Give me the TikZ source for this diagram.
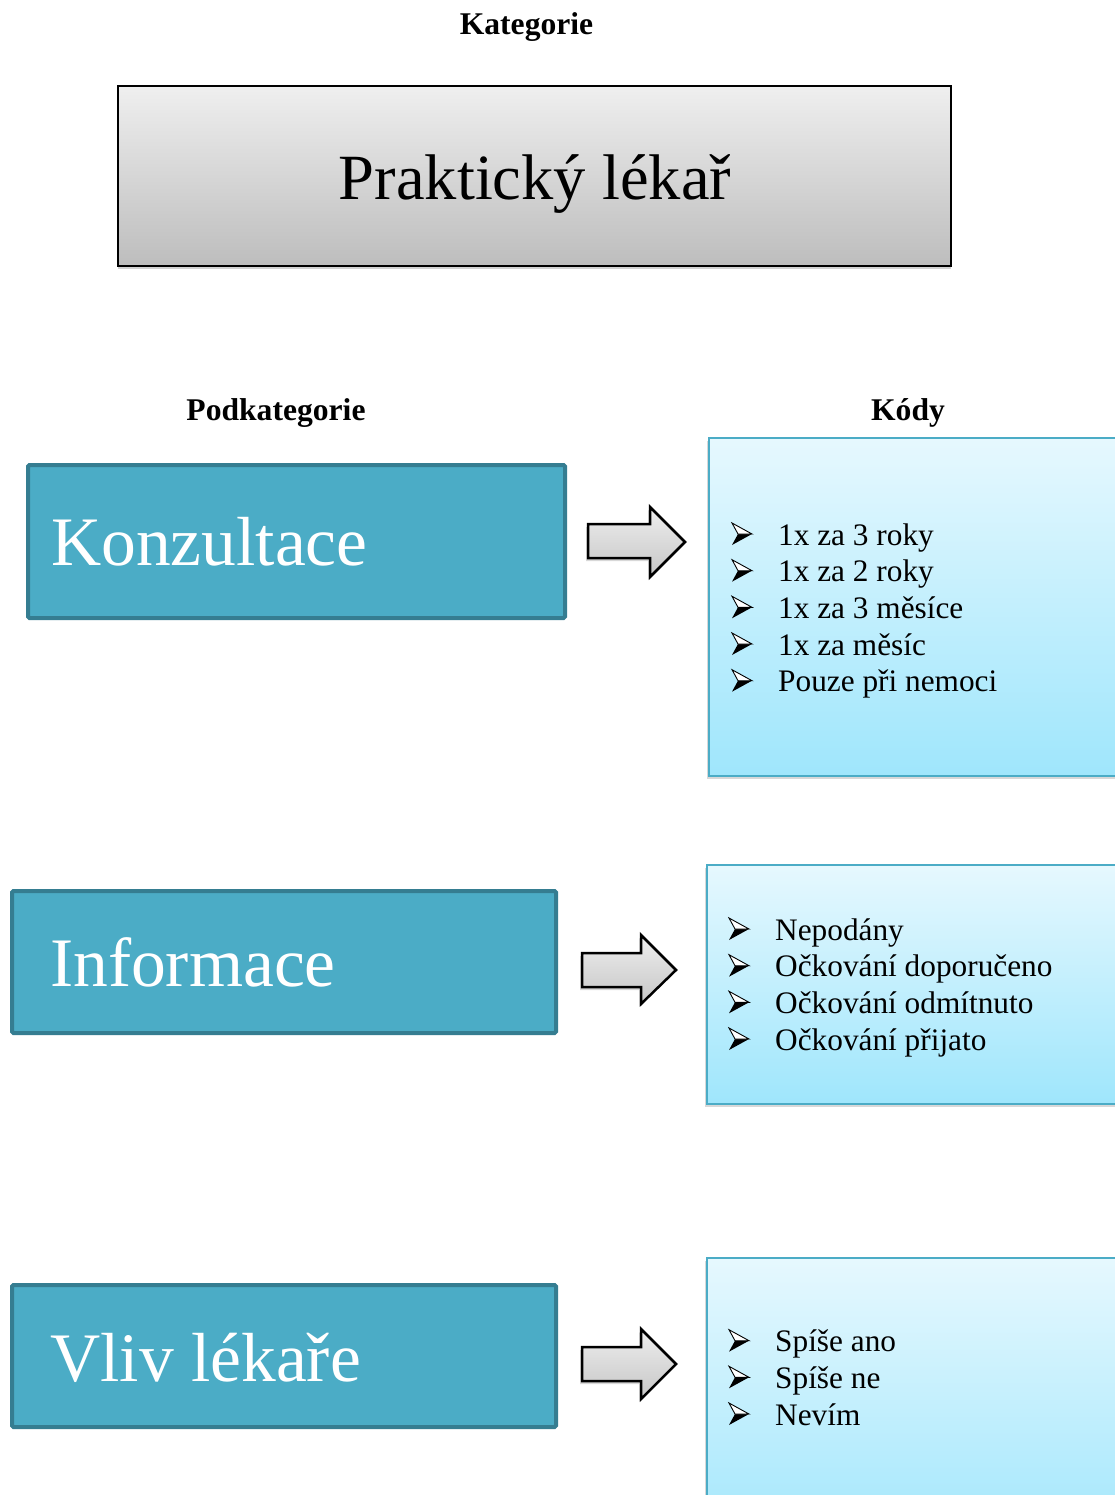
\documentclass[tikz,border=0pt]{standalone}
\usepackage{fontspec}
\setmainfont{Liberation Serif}
\usetikzlibrary{shadows}
\definecolor{tealfill}{HTML}{4BACC6}
\definecolor{tealdark}{HTML}{357D91}
\definecolor{kodtop}{HTML}{E6F8FE}
\definecolor{kodbot}{HTML}{9FE6FC}
\definecolor{greytop}{HTML}{EFEFEF}
\definecolor{greybot}{HTML}{BDBDBD}
\definecolor{arrtop}{HTML}{EEEEEE}
\definecolor{arrbot}{HTML}{C6C6C6}
\begin{document}
\begin{tikzpicture}[x=1pt,y=-1pt,
  heading/.style={font=\fontsize{31.6}{36}\selectfont\bfseries, inner sep=0pt, anchor=base},
  katbox/.style={draw=black, line width=2pt, top color=greytop, bottom color=greybot,
    inner sep=0pt, drop shadow={opacity=0.35, shadow xshift=0pt, shadow yshift=-3pt}},
  kattext/.style={font=\fontsize{64.5}{72}\selectfont, inner sep=0pt, anchor=base},
  subbox/.style={draw=tealdark, line width=4pt, fill=tealfill, rounded corners=1.5pt, inner sep=0pt},
  subtext/.style={font=\fontsize{69.5}{80}\selectfont, text=white, anchor=base west, inner sep=0pt},
  kodbox/.style={draw=tealfill, line width=2pt, top color=kodtop, bottom color=kodbot, inner sep=0pt,
    drop shadow={opacity=0.3, shadow xshift=-2pt, shadow yshift=-3pt}},
  kodtext/.style={font=\fontsize{31.3}{36}\selectfont, anchor=base west, inner sep=0pt},
  blockarrow/.style={draw=black, line width=2.5pt, line join=miter, top color=arrtop, bottom color=arrbot,
    drop shadow={opacity=0.3, shadow xshift=-2pt, shadow yshift=-3pt}},
  bulletarrow/.pic={
    \fill[black] (6,0) -- (20,0) -- (0,11) -- cycle;
    \filldraw[fill=white, draw=black, line width=0.9pt, line join=miter] (0,-11) -- (20,0) -- (6,0) -- cycle;
  }
]
\useasboundingbox (0,0) rectangle (1115,1495);
\clip (0,0) rectangle (1115,1495);
\fill[white] (0,0) rectangle (1115,1495);

% headings
\node[heading] (hkat) at (526.5,35) {Kategorie};
\node[heading] (hpod) at (276,420) {Podkategorie};
\node[heading] (hkod) at (908,420) {Kódy};

% category box
\node[katbox, minimum width=833pt, minimum height=180pt] (pl) at (534.5,176) {};
\node[kattext] (plt) at (535,199.5) {Praktický lékař};

% subcategory boxes
\node[subbox, minimum width=537pt, minimum height=153pt] (s1) at (296.5,541.5) {};
\node[subtext] (s1t) at (51,565) {Konzultace};
\node[subbox, minimum width=544pt, minimum height=142pt] (s2) at (284,962) {};
\node[subtext] (s2t) at (50,986) {Informace};
\node[subbox, minimum width=544pt, minimum height=142pt] (s3) at (284,1356) {};
\node[subtext] (s3t) at (50,1381) {Vliv lékaře};

% arrows
\draw[blockarrow] (588,524) -- (650,524) -- (650,507) -- (685,542) -- (650,577) -- (650,558) -- (588,558) -- cycle;
\draw[blockarrow] (582,953) -- (641,953) -- (641,935) -- (676,970) -- (641,1004) -- (641,987) -- (582,987) -- cycle;
\draw[blockarrow] (582,1347) -- (641,1347) -- (641,1329) -- (676,1364) -- (641,1399) -- (641,1381) -- (582,1381) -- cycle;

% code boxes
\node[kodbox, minimum width=440pt, minimum height=338pt] (k1) at (929,607) {};
\node[kodbox, minimum width=440pt, minimum height=239pt] (k2) at (927,984.5) {};
\node[kodbox, minimum width=440pt, minimum height=300pt] (k3) at (927,1408) {};

% code lists
\foreach \yb/\txt [count=\i] in {545/{1x za 3 roky}, 581.7/{1x za 2 roky}, 618.3/{1x za 3 měsíce}, 655/{1x za měsíc}, 691.7/{Pouze při nemoci}} {
  \pic at (732,\yb-11) {bulletarrow};
  \node[kodtext] (a\i) at (778,\yb) {\txt};
}
\foreach \yb/\txt [count=\i] in {940/{Nepodány}, 976.7/{Očkování doporučeno}, 1013.3/{Očkování odmítnuto}, 1050/{Očkování přijato}} {
  \pic at (729,\yb-11) {bulletarrow};
  \node[kodtext] (b\i) at (775,\yb) {\txt};
}
\foreach \yb/\txt [count=\i] in {1351.7/{Spíše ano}, 1388.3/{Spíše ne}, 1425/{Nevím}} {
  \pic at (729,\yb-11) {bulletarrow};
  \node[kodtext] (c\i) at (775,\yb) {\txt};
}
\end{tikzpicture}
\end{document}
